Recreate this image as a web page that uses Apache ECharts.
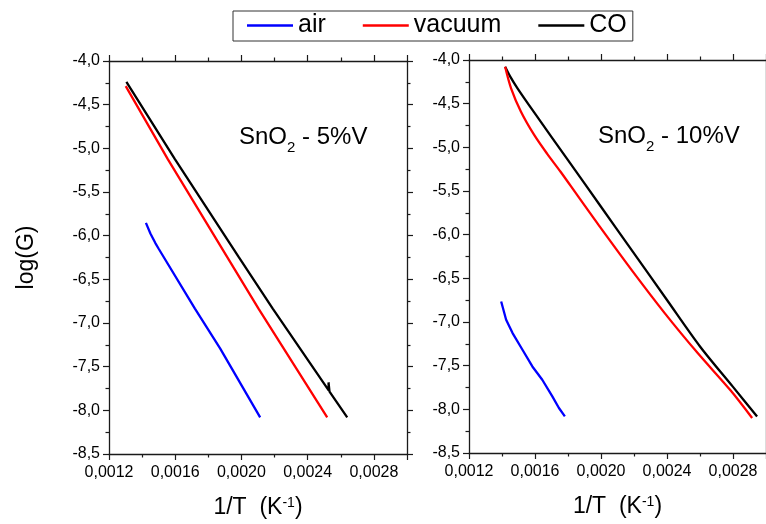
<!DOCTYPE html>
<html>
<head>
<meta charset="utf-8">
<script src="https://cdn.jsdelivr.net/npm/echarts@6/dist/echarts.min.js"></script>
<style>
  html, body { margin: 0; padding: 0; background: #fff; }
  #chart { width: 766px; height: 524px; }
</style>
</head>
<body>
<div id="chart"></div>
<script>
// Arrhenius plots of conductance: log(G) against 1/T for two SnO2:V samples
const seriesNames = ['air', 'vacuum', 'CO'];
const seriesColors = ['#0000ff', '#ff0000', '#000000'];

const xTickValues = [0.0012, 0.0016, 0.0020, 0.0024, 0.0028];
const yTickValues = [-8.5, -8.0, -7.5, -7.0, -6.5, -6.0, -5.5, -5.0, -4.5, -4.0];

// SnO2 - 5%V
const air5 = [
  [0.001423, -5.854], [0.001450, -5.975], [0.001480, -6.085], [0.001500, -6.150],
  [0.001719, -6.835], [0.001871, -7.291], [0.002113, -8.081]
];
const vacuum5 = [
  [0.001301, -4.288], [0.001555, -5.124], [0.002103, -6.835], [0.002518, -8.081]
];
const co5 = [
  [0.001305, -4.238], [0.001598, -5.124], [0.001982, -6.240], [0.002189, -6.835],
  [0.002527, -7.771], [0.002526, -7.680], [0.002532, -7.786], [0.002639, -8.081]
];

// SnO2 - 10%V
const air10 = [
  [0.001395, -6.765], [0.001425, -6.975], [0.001464, -7.127], [0.001524, -7.318],
  [0.001584, -7.509], [0.001644, -7.661], [0.001705, -7.852], [0.001745, -7.985],
  [0.001781, -8.081]
];
const vacuum10 = [
  [0.001419, -4.077], [0.001455, -4.324], [0.001515, -4.592], [0.001595, -4.858],
  [0.001674, -5.075], [0.001755, -5.280], [0.001855, -5.545], [0.001985, -5.888],
  [0.002185, -6.403], [0.002386, -6.898], [0.002586, -7.356], [0.002786, -7.785],
  [0.002916, -8.100]
];
const co10 = [
  [0.001419, -4.077], [0.001450, -4.190], [0.001494, -4.324], [0.001595, -4.600],
  [0.001800, -5.147], [0.002000, -5.680], [0.002185, -6.174], [0.002400, -6.748],
  [0.002600, -7.280], [0.002800, -7.743], [0.002946, -8.081]
];

const panels = [
  { label: '{main|SnO}{sub|2}{main| - 5%V}', data: [air5, vacuum5, co5] },
  { label: '{main|SnO}{sub|2}{main| - 10%V}', data: [air10, vacuum10, co10] }
];

const FONT = '"Liberation Sans", Arial, sans-serif';
const AXIS_COLOR = '#1a1a1a';

function hasTick(list, v, eps) {
  return list.some(t => Math.abs(t - v) < eps);
}
function xLabel(v) {
  return hasTick(xTickValues, v, 1e-7) ? v.toFixed(4).replace('.', ',') : '';
}
function yLabel(v) {
  return hasTick(yTickValues, v, 1e-6) ? v.toFixed(1).replace('.', ',') : '';
}

const grids = [
  { left: 109, top: 61, width: 298, height: 395 },
  { left: 469, top: 60, width: 300, height: 393 }
];

const axisLine = { show: true, onZero: false, lineStyle: { color: AXIS_COLOR, width: 1.3 } };
const axisTick = { show: true, inside: false, length: 6, lineStyle: { color: AXIS_COLOR, width: 1.2 } };
const minorTick = { show: true, splitNumber: 2, length: 3.5, lineStyle: { color: AXIS_COLOR, width: 1.2 } };

const xAxes = [];
const yAxes = [];
grids.forEach((g, i) => {
  const xBase = {
    type: 'value', gridIndex: i, min: 0.0012, max: 0.0030, interval: 0.0004,
    axisLine, axisTick, minorTick, splitLine: { show: false }, minorSplitLine: { show: false }
  };
  xAxes.push(Object.assign({}, xBase, {
    position: 'bottom',
    axisLabel: { formatter: xLabel, fontFamily: FONT, fontSize: 16, color: '#000', margin: 11, showMaxLabel: false },
    name: '1/T  (K{sup|-1})',
    nameLocation: 'middle',
    nameGap: 42,
    nameTextStyle: {
      fontFamily: FONT, fontSize: 23, color: '#000',
      rich: { sup: { fontFamily: FONT, fontSize: 14, color: '#000', verticalAlign: 'top' } }
    }
  }));
  xAxes.push(Object.assign({}, xBase, { position: 'top', axisLabel: { show: false } }));

  const yBase = {
    type: 'value', gridIndex: i, min: -8.5, max: -4.0, interval: 0.5,
    axisLine, axisTick, minorTick, splitLine: { show: false }, minorSplitLine: { show: false }
  };
  const yLeft = Object.assign({}, yBase, {
    position: 'left',
    axisLabel: { formatter: yLabel, fontFamily: FONT, fontSize: 16, color: '#000', margin: 9 }
  });
  if (i === 0) {
    Object.assign(yLeft, {
      name: 'log(G)', nameLocation: 'middle', nameGap: 71, nameRotate: 90,
      nameTextStyle: { fontFamily: FONT, fontSize: 23, color: '#000' }
    });
  }
  yAxes.push(yLeft);
  yAxes.push(Object.assign({}, yBase, { position: 'right', axisLabel: { show: false } }));
});

const series = [];
panels.forEach((p, i) => {
  p.data.forEach((d, k) => {
    series.push({
      name: seriesNames[k],
      type: 'line',
      xAxisIndex: i * 2,
      yAxisIndex: i * 2,
      data: d,
      symbol: 'none',
      smooth: i === 1 && k > 0 ? 0.3 : false,
      lineStyle: { color: seriesColors[k], width: 2.3 },
      itemStyle: { color: seriesColors[k] },
      z: k === 0 ? 3 : (k === 1 ? 2 : 1)
    });
  });
});

const annotationRich = {
  main: { fontFamily: FONT, fontSize: 24, lineHeight: 30, verticalAlign: 'top', fill: '#000' },
  sub: { fontFamily: FONT, fontSize: 15, lineHeight: 15, padding: [19, 0, 0, 0], verticalAlign: 'bottom', fill: '#000' }
};

const chart = echarts.init(document.getElementById('chart'), null, { renderer: 'canvas' });
chart.setOption({
  animation: false,
  backgroundColor: '#fff',
  grid: grids,
  xAxis: xAxes,
  yAxis: yAxes,
  legend: {
    data: seriesNames.map((n, k) => ({ name: n, icon: 'rect', itemStyle: { color: seriesColors[k] } })),
    left: 233,
    top: 11,
    orient: 'horizontal',
    itemWidth: 46,
    itemHeight: 2.5,
    itemGap: 37,
    padding: [2, 6, 3, 14],
    borderColor: '#333',
    borderWidth: 1,
    textStyle: { fontFamily: FONT, fontSize: 25, color: '#000' }
  },
  graphic: panels.map((p, i) => ({
    type: 'text',
    left: i === 0 ? 239 : 598,
    top: i === 0 ? 121 : 120,
    style: { text: p.label, rich: annotationRich }
  })),
  series
});
</script>
</body>
</html>
